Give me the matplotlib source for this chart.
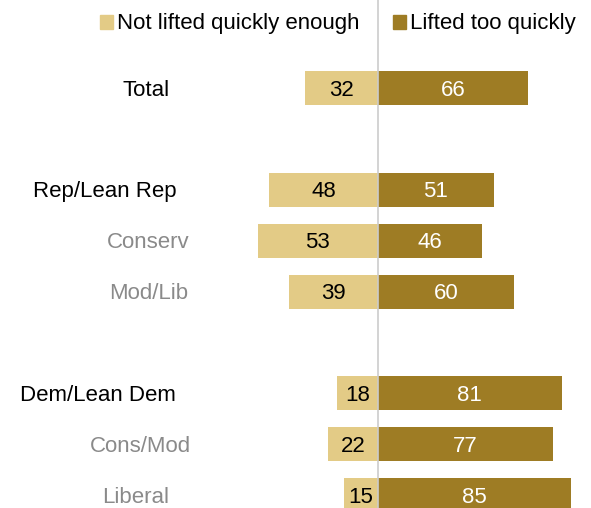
import numpy as np
import matplotlib.pyplot as plt

categories = ["Total", "Rep/Lean Rep", "Conserv", "Mod/Lib",
              "Dem/Lean Dem", "Cons/Mod", "Liberal"]
not_quick = [32, 48, 53, 39, 18, 22, 15]
too_quick = [66, 51, 46, 60, 81, 77, 85]
is_sub = [False, False, True, True, False, True, True]

rows = np.array([0, 2, 3, 4, 6, 7, 8])
label_right = [-92, -88.5, -83, -83.5, -89, -82.5, -92]   # label right edges, data units

light = "#E3CB86"
dark = "#9E7C24"

plt.rcParams['font.family'] = ['Liberation Sans', 'DejaVu Sans']

fig = plt.figure(figsize=(5.91, 5.08), dpi=100)
ax = fig.add_axes([0, 0, 1, 1])
scale = 2.27
ax.set_xlim(-378 / scale, (591 - 378) / scale)
ax.set_ylim((508 - 88) / 50.9, -88 / 50.9)

h = 0.67
ax.barh(rows, [-v for v in not_quick], height=h, color=light, edgecolor='none')
ax.barh(rows, too_quick, height=h, color=dark, edgecolor='none')
ax.axvline(0, color='#cccccc', lw=1.2, zorder=3)

fs = 16
for r, a, b, lab, sub, lx in zip(rows, not_quick, too_quick, categories, is_sub, label_right):
    ax.text(-a / 2, r + 0.04, str(a), ha='center', va='center', fontsize=fs, color='black')
    ax.text(b / 2, r + 0.04, str(b), ha='center', va='center', fontsize=fs, color='white')
    ax.text(lx, r + 0.04, lab, ha='right', va='center', fontsize=fs,
            color='#8a8a8a' if sub else 'black')

# legend
fig.patches.append(plt.Rectangle((100 / 591, 1 - 29 / 508), 13 / 591, 14 / 508,
                                 transform=fig.transFigure, color=light))
fig.patches.append(plt.Rectangle((393 / 591, 1 - 29 / 508), 13 / 591, 14 / 508,
                                 transform=fig.transFigure, color=dark))
fig.text(117 / 591, 1 - 24 / 508, "Not lifted quickly enough", ha='left', va='center', fontsize=fs)
fig.text(410 / 591, 1 - 24 / 508, "Lifted too quickly", ha='left', va='center', fontsize=fs)

ax.axis('off')
fig.savefig('out.png', dpi=100)
